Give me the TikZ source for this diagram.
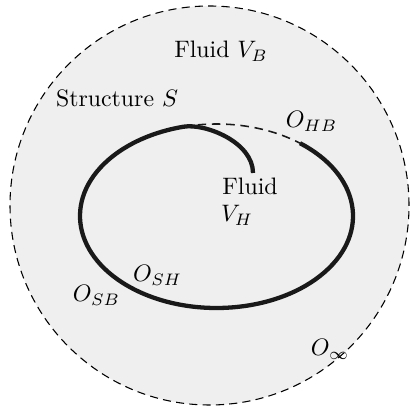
\documentclass[tikz,border=0pt]{standalone}
\usetikzlibrary{calc}
\begin{document}
\begin{tikzpicture}[x=0.42pt,y=0.42pt,
  lbl/.style={anchor=base,inner sep=0pt,font=\normalsize},
  outer/.style={draw=black,dash pattern=on 3.4pt off 2.2pt,line width=0.45pt,fill=bgfill},
  wall/.style={line width=1.8pt,line cap=butt,line join=round,draw=black!90},
  gap/.style={line width=0.65pt,dash pattern=on 3.6pt off 2.4pt,draw=black!90}]
\definecolor{bgfill}{RGB}{239,239,239}
\useasboundingbox (0,0) rectangle (409,412);
% outer fluid domain
\path[outer] (209.5,206.5) circle[radius=199.5];
% structure wall
\draw[wall] ($(216.5,196)+(52.3:136.5 and 92)$) coordinate (ohb)
  arc[start angle=52.3,end angle=-256,x radius=136.5,y radius=92] coordinate (top)
  .. controls (205,288.9) and (253,270) .. (253,239) coordinate (hookend);
% dashed opening
\draw[gap] (top) arc[start angle=104,end angle=52.3,x radius=136.5,y radius=92];
% labels
\node[lbl] (vb) at (221,354) {Fluid $V_B$};
\node[lbl] (s) at (117,305) {Structure $S$};
\node[lbl] (hb) at (311.5,284) {$O_{HB}$};
\node[lbl] (fl) at (250,217) {Fluid};
\node[lbl] (vh) at (237,190) {$V_H$};
\node[lbl] (sh) at (157.5,130) {$O_{SH}$};
\node[lbl] (sb) at (96.5,110) {$O_{SB}$};
\node[lbl] (inf) at (330,56) {$O_\infty$};
\end{tikzpicture}
\end{document}
